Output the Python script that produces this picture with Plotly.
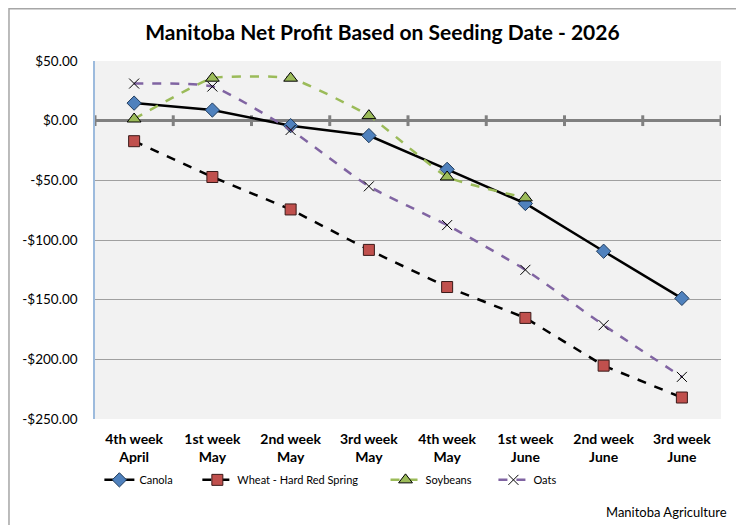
import plotly.graph_objects as go

# seeding week categories
weeks = ["4th week<br>April", "1st week<br>May", "2nd week<br>May", "3rd week<br>May",
         "4th week<br>May", "1st week<br>June", "2nd week<br>June", "3rd week<br>June"]

# net profit ($/acre)
canola = [14.7, 8.9, -4.2, -12.5, -40.8, -69.4, -109.4, -148.9]
wheat_hrs = [-17.2, -47.2, -74.4, -108.3, -139.4, -165.3, -205.3, -232.0]
soybeans = [1.4, 35.6, 35.6, 4.2, -47.2, -64.7, None, None]
oats = [31.1, 28.6, -7.8, -55.0, -87.5, -125.0, -171.4, -214.7]

y_ticks = [50, 0, -50, -100, -150, -200, -250]
y_labels = [("-$" if v < 0 else "$") + f"{abs(v):.2f}" for v in y_ticks]

FONT = "Lato"
NB = "\u00a0"
x_idx = list(range(len(weeks)))

fig = go.Figure()

# little tick marks on the zero line, between categories
for i in range(len(weeks) + 1):
    fig.add_shape(type="line", xref="x", yref="y", x0=i - 0.5, x1=i - 0.5, y0=-4.5, y1=4.5,
                  line=dict(color="#808080", width=3), layer="below")

fig.add_trace(go.Scatter(
    x=x_idx, y=canola, name="Canola" + NB * 7, mode="lines+markers",
    line=dict(color="black", width=2.5),
    marker=dict(symbol="diamond", size=11, color="#4F81BD", line=dict(color="#1F3B5C", width=1)),
))
fig.add_trace(go.Scatter(
    x=x_idx, y=wheat_hrs, name="Wheat - Hard Red Spring" + NB * 8, mode="lines+markers",
    line=dict(color="black", width=2.5, dash="dash"),
    marker=dict(symbol="square", size=11, color="#C0504D", line=dict(color="#3A1A19", width=1)),
))
fig.add_trace(go.Scatter(
    x=x_idx, y=soybeans, name="Soybeans" + NB * 6, mode="lines+markers",
    line=dict(color="#9BBB59", width=2.5, dash="dash", shape="spline", smoothing=0.4),
    marker=dict(symbol="triangle-up", size=12, color="#9BBB59", line=dict(color="black", width=1)),
))
fig.add_trace(go.Scatter(
    x=x_idx, y=oats, name="Oats", mode="lines+markers",
    line=dict(color="#8064A2", width=2.5, dash="dash", shape="spline", smoothing=0.5),
    marker=dict(symbol="x-thin", size=10, color="black", line=dict(color="black", width=1)),
))

# chart border
fig.add_shape(type="rect", xref="paper", yref="paper", x0=-0.1374, x1=1.06, y0=-0.35, y1=1.146,
              line=dict(color="#A6A6A6", width=1.5), fillcolor="rgba(0,0,0,0)")

fig.add_annotation(text="Manitoba Agriculture", xref="paper", yref="paper",
                   x=1.012, y=-0.26, xanchor="right", yanchor="middle", showarrow=False,
                   font=dict(family=FONT, size=13, color="black"))

# page body has an 8px margin, so the figure is 8px smaller than the window
fig.update_layout(
    width=736, height=517,
    margin=dict(l=87, r=23, t=53, b=106),
    title=dict(text="<b>Manitoba Net Profit Based on Seeding Date - 2026</b>",
               x=0.5088, xref="container", xanchor="center",
               y=1 - 25 / 517, yref="container", yanchor="middle",
               font=dict(family=FONT, size=21, color="black")),
    plot_bgcolor="#F2F2F2", paper_bgcolor="white",
    showlegend=True,
    legend=dict(orientation="h", x=0.007, xanchor="left", y=-0.17, yanchor="middle",
                font=dict(family=FONT, size=11, color="black"), bgcolor="rgba(0,0,0,0)",
                traceorder="normal", itemwidth=30),
    xaxis=dict(tickvals=x_idx, ticktext=["<b>" + w + "</b>" for w in weeks],
               range=[-0.5, len(weeks) - 0.5], showgrid=False, zeroline=False,
               showline=False, ticks="", ticklabelstandoff=10,
               tickfont=dict(family=FONT, size=14, color="black")),
    yaxis=dict(tickvals=y_ticks, ticktext=y_labels, range=[-250, 50],
               showgrid=True, gridcolor="#A0A0A0", gridwidth=1,
               zeroline=True, zerolinecolor="#808080", zerolinewidth=3,
               showline=True, linecolor="#9DBBDD", linewidth=1.5, mirror=False,
               ticks="", ticklabelstandoff=13,
               tickfont=dict(family=FONT, size=13.5, color="black")),
)

fig.write_html("out.html")
